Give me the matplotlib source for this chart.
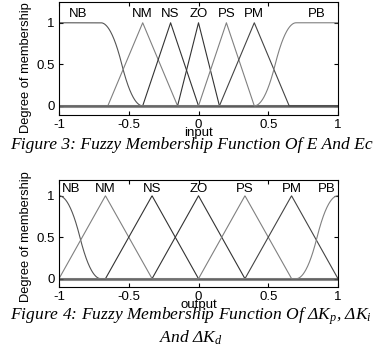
import numpy as np
import matplotlib.pyplot as plt

plt.rcParams['font.family'] = 'Liberation Sans'
plt.rcParams['mathtext.fontset'] = 'custom'
plt.rcParams['mathtext.it'] = 'Liberation Serif:italic'
plt.rcParams['mathtext.rm'] = 'Liberation Serif:italic'

# membership function parameters
names = ['NB', 'NM', 'NS', 'ZO', 'PS', 'PM', 'PB']
input_params = [[-0.7, -0.4], [-0.65, -0.4, -0.15], [-0.4, -0.2, 0.0], [-0.15, 0.0, 0.15],
                [0.0, 0.2, 0.4], [0.15, 0.4, 0.65], [0.4, 0.7]]
input_label_x = [-0.86, -0.4, -0.2, 0.0, 0.2, 0.4, 0.85]
output_params = [[-1.0, -0.7], [-1.0, -0.667, -0.333], [-0.667, -0.333, 0.0], [-0.333, 0.0, 0.333],
                 [0.0, 0.333, 0.667], [0.333, 0.667, 1.0], [0.7, 1.0]]
output_label_x = [-0.91, -0.667, -0.333, 0.0, 0.333, 0.667, 0.92]
line_colors = ['#555555', '#808080', '#333333', '#333333', '#808080', '#444444', '#808080']


def zmf(x, a, b):
    y = np.ones_like(x)
    m = (a + b) / 2
    i1 = (x > a) & (x <= m)
    i2 = (x > m) & (x < b)
    y[i1] = 1 - 2 * ((x[i1] - a) / (b - a)) ** 2
    y[i2] = 2 * ((x[i2] - b) / (b - a)) ** 2
    y[x >= b] = 0
    return y


def smf(x, a, b):
    return 1 - zmf(x, a, b)


def trimf(x, a, b, c):
    return np.clip(np.minimum((x - a) / (b - a), (c - x) / (c - b)), 0, 1)


def mf(x, p, k):
    if k == 0:
        return zmf(x, *p)
    if k == len(names) - 1:
        return smf(x, *p)
    return trimf(x, *p)


def draw(ax, params, label_x, label_y, xlabel, ylim, ylab_y):
    x = np.linspace(-1, 1, 801)
    ax.axhline(0, color='#8c8c8c', lw=2.2, zorder=1)
    for k in range(len(names)):
        ax.plot(x, mf(x, params[k], k), color=line_colors[k], lw=0.8, zorder=2)
        ax.text(label_x[k], label_y, names[k], ha='center', va='bottom', fontsize=9.5)
    ax.set_xlim(-1, 1)
    ax.set_ylim(*ylim)
    ax.set_xticks([-1, -0.5, 0, 0.5, 1])
    ax.set_xticklabels(['-1', '-0.5', '0', '0.5', '1'])
    ax.set_yticks([0, 0.5, 1])
    ax.set_yticklabels(['0', '0.5', '1'])
    ax.tick_params(direction='in', top=True, right=True, length=3, labelsize=9.5, pad=3)
    ax.set_xlabel(xlabel, fontsize=9.5, labelpad=-3)
    ax.set_ylabel('Degree of membership', fontsize=9.3)
    ax.yaxis.set_label_coords(-0.097, ylab_y)


fig = plt.figure(figsize=(3.82, 3.62), dpi=100)
ax1 = fig.add_axes([59 / 382, 1 - 115 / 362, 279 / 382, 113 / 362])
draw(ax1, input_params, input_label_x, 1.03, 'input', (-0.11, 1.25), 0.42)
ax2 = fig.add_axes([59 / 382, 1 - 287 / 362, 279 / 382, 107 / 362])
draw(ax2, output_params, output_label_x, 1.01, 'output', (-0.1, 1.19), 0.47)

fig.text(0.5, 1 - 145 / 362, 'Figure 3: Fuzzy Membership Function Of E And Ec',
         ha='center', va='center', family='Liberation Serif', style='italic', fontsize=12.6)
fig.text(0.5, 1 - 316 / 362, r'Figure 4: Fuzzy Membership Function Of ΔK$_p$, ΔK$_i$',
         ha='center', va='center', family='Liberation Serif', style='italic', fontsize=12.6)
fig.text(0.5, 1 - 338 / 362, r'And ΔK$_d$',
         ha='center', va='center', family='Liberation Serif', style='italic', fontsize=12.6)

fig.savefig('out.png', dpi=100)
